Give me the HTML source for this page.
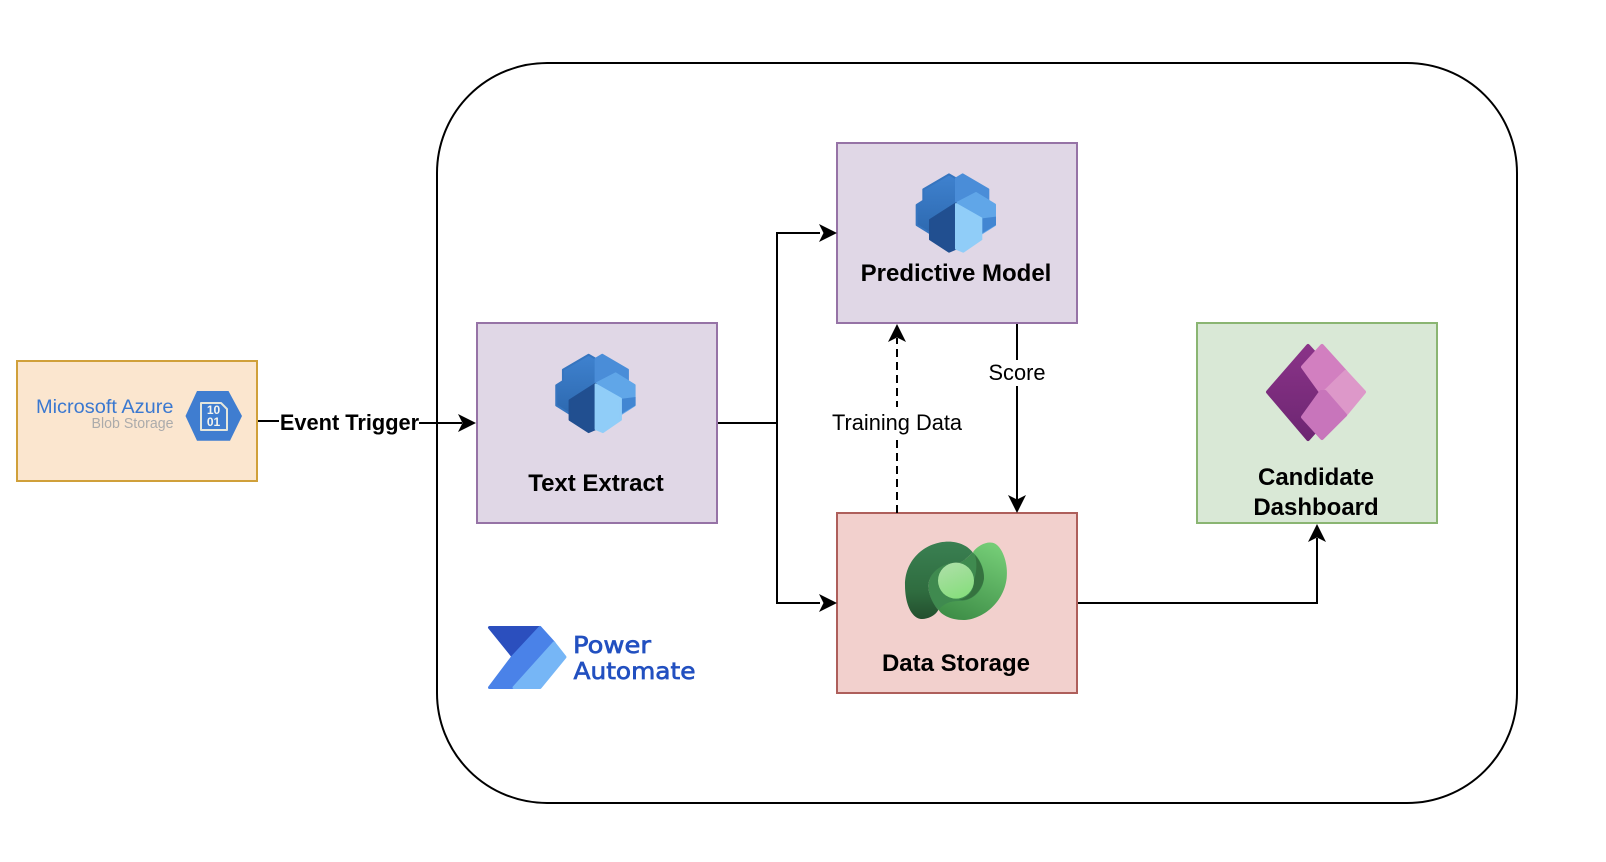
<!DOCTYPE html>
<html>
<head>
<meta charset="utf-8">
<style>
html,body{margin:0;padding:0;background:#fff;width:1606px;height:862px;overflow:hidden}
svg{display:block}
text{font-family:"Liberation Sans",Arial,sans-serif}
.b{font-weight:bold;font-size:24px;fill:#000;text-anchor:middle}
.l{font-size:21.8px;fill:#000;text-anchor:middle}
</style>
</head>
<body>
<svg width="1606" height="862" viewBox="0 0 1606 862" xmlns="http://www.w3.org/2000/svg">
<defs>
<linearGradient id="gd" x1="0" y1="0" x2="0" y2="1"><stop offset="0" stop-color="#3a8052"/><stop offset="0.65" stop-color="#2f6c3f"/><stop offset="1" stop-color="#234f2e"/></linearGradient>
<linearGradient id="gl" x1="0.7" y1="0" x2="0.3" y2="1"><stop offset="0" stop-color="#74cc76"/><stop offset="1" stop-color="#3f8f48"/></linearGradient>
<linearGradient id="gc" x1="0.3" y1="0" x2="0.7" y2="1"><stop offset="0" stop-color="#acdfa6"/><stop offset="1" stop-color="#86de7c"/></linearGradient>
<linearGradient id="gb" x1="0" y1="0" x2="0" y2="1"><stop offset="0" stop-color="#3f82cf"/><stop offset="1" stop-color="#2d69b0"/></linearGradient>
<linearGradient id="gp" x1="0" y1="0" x2="0" y2="1"><stop offset="0" stop-color="#8a3388"/><stop offset="1" stop-color="#6d2672"/></linearGradient>
</defs>

<!-- container -->
<rect x="437" y="63" width="1080" height="740" rx="110" ry="110" fill="#fff" stroke="#000" stroke-width="2"/>

<!-- boxes -->
<rect x="17" y="361" width="240" height="120" fill="#fbe6cf" stroke="#d0a03a" stroke-width="2"/>
<rect x="477" y="323" width="240" height="200" fill="#e0d7e6" stroke="#9673a6" stroke-width="2"/>
<rect x="837" y="143" width="240" height="180" fill="#e0d7e6" stroke="#9673a6" stroke-width="2"/>
<rect x="837" y="513" width="240" height="180" fill="#f2d0cd" stroke="#ae5f5b" stroke-width="2"/>
<rect x="1197" y="323" width="240" height="200" fill="#d9e8d6" stroke="#8ab572" stroke-width="2"/>

<!-- connectors -->
<g fill="none" stroke="#000" stroke-width="2">
<path d="M258 421H279"/>
<path d="M419 423H462"/>
<path d="M718 423H777"/>
<path d="M820 233H777V603H820"/>
<path d="M1017 324V500"/>
<path d="M897 513V338" stroke-dasharray="8 5"/>
<path d="M1078 603H1317V538"/>
</g>
<g fill="#000">
<path d="M476 423L458 414L462.500 423L458 432Z"/>
<path d="M837 233L819 224L823.500 233L819 242Z"/>
<path d="M837 603L819 594L823.500 603L819 612Z"/>
<path d="M1017 513L1008 495L1017 499.500L1026 495Z"/>
<path d="M897 324L888 342L897 337.500L906 342Z"/>
<path d="M1317 524L1308 542L1317 537.500L1326 542Z"/>
</g>

<!-- connector labels -->
<rect x="988" y="360" width="58" height="26" fill="#fff"/>
<text class="l" x="1017" y="380">Score</text>
<rect x="831" y="407" width="132" height="30" fill="#fff"/>
<text class="l" x="897" y="430">Training Data</text>
<text x="349.500" y="430" font-size="21.800" font-weight="bold" text-anchor="middle" fill="#000">Event Trigger</text>

<!-- box labels -->
<text class="b" x="596" y="491">Text Extract</text>
<text class="b" x="956" y="281">Predictive Model</text>
<text class="b" x="956" y="671">Data Storage</text>
<text class="b" x="1316" y="485">Candidate</text>
<text class="b" x="1316" y="515">Dashboard</text>

<!-- Azure logo -->
<text x="36" y="413" font-size="19.500" fill="#3a78d0" textLength="137.500" lengthAdjust="spacingAndGlyphs">Microsoft Azure</text>
<text x="91.500" y="428" font-size="15" fill="#ababab" textLength="82" lengthAdjust="spacingAndGlyphs">Blob Storage</text>
<path d="M185.500 416L197 391H228.500L242 416L230 440.700H197Z" fill="#3f7dd0"/>
<path d="M201 403H221L227 409V430H201Z" fill="#3f7dd0" stroke="#e4e6dc" stroke-width="2" stroke-linejoin="round"/>
<text x="213.500" y="414" font-size="12" font-weight="bold" fill="#f4f4ee" text-anchor="middle">10</text>
<text x="213.500" y="426" font-size="12" font-weight="bold" fill="#f4f4ee" text-anchor="middle">01</text>

<!-- AI Builder icon (Predictive) -->
<g transform="translate(870 150) scale(.3333)" stroke-linejoin="round">
<path d="M237 73L160 118V152L140 165V225L180 250L258 200V85Z" fill="url(#gb)" stroke="#3675bf" stroke-width="6"/>
<path d="M258 85L278 73L355 118V152L318 127L258 160Z" fill="#4a8dd8" stroke="#4a8dd8" stroke-width="6"/>
<path d="M258 160L318 129L375 164V225L336 250V205Z" fill="#60a6e8" stroke="#60a6e8" stroke-width="6"/>
<path d="M336 250L378 225V200L336 205Z" fill="#4286d2"/>
<path d="M258 160L180 210V268L237 305L258 296Z" fill="#214f90" stroke="#214f90" stroke-width="6"/>
<path d="M258 162L334 205V268L280 305L258 296Z" fill="#90cdf8" stroke="#90cdf8" stroke-width="6"/>
</g>
<!-- AI Builder icon (Text Extract) -->
<g transform="translate(509.600 330.400) scale(.3333)" stroke-linejoin="round">
<path d="M237 73L160 118V152L140 165V225L180 250L258 200V85Z" fill="url(#gb)" stroke="#3675bf" stroke-width="6"/>
<path d="M258 85L278 73L355 118V152L318 127L258 160Z" fill="#4a8dd8" stroke="#4a8dd8" stroke-width="6"/>
<path d="M258 160L318 129L375 164V225L336 250V205Z" fill="#60a6e8" stroke="#60a6e8" stroke-width="6"/>
<path d="M336 250L378 225V200L336 205Z" fill="#4286d2"/>
<path d="M258 160L180 210V268L237 305L258 296Z" fill="#214f90" stroke="#214f90" stroke-width="6"/>
<path d="M258 162L334 205V268L280 305L258 296Z" fill="#90cdf8" stroke="#90cdf8" stroke-width="6"/>
</g>

<!-- Dataverse icon -->
<g transform="translate(860 515) scale(.3333)">
<path d="M340 110C355 90 385 76 405 86C430 100 445 150 440 190C430 270 360 315 310 315C270 315 240 297 235 282C260 240 330 190 340 110Z" fill="url(#gl)"/>
<path d="M338 112C360 130 372 160 372 185C372 225 340 258 300 258C275 258 255 262 235 285C215 265 205 235 205 210C210 165 250 140 300 143C315 135 328 122 338 112Z" fill="#3f8a4f"/>
<path d="M135 210C135 130 200 80 265 80C300 80 325 95 338 112C325 125 312 137 300 143C255 140 210 165 205 210C205 240 220 268 235 285C222 308 190 316 175 310C150 300 135 260 135 210Z" fill="url(#gd)"/>
<path d="M342 197A54 54 0 0 1 296 254C330 262 366 230 372 190C372 165 362 140 345 120C352 145 350 170 342 197Z" fill="#35723f"/>
<circle cx="288" cy="197" r="54" fill="url(#gc)"/>
</g>

<!-- Power Apps icon -->
<g stroke-linejoin="round" stroke-width="4">
<path d="M1268 392L1308 346L1350 392L1308 439Z" fill="url(#gp)" stroke="url(#gp)"/>
<path d="M1303 367L1322 346L1345.500 372L1325 392H1321Z" fill="#d27fc0" stroke="#d27fc0"/>
<path d="M1325 392L1345.500 372L1364 392L1345 415Z" fill="#dd98c9" stroke="#dd98c9"/>
<path d="M1321 392H1325L1345 415L1322 438L1303 417Z" fill="#c875bb" stroke="#c875bb"/>
</g>

<!-- Power Automate logo -->
<g stroke-linejoin="round">
<path d="M489.500 627.500H539.500L512.500 656Z" fill="#2b4fbe" stroke="#2b4fbe" stroke-width="3"/>
<path d="M540 627.500L554 643L514 687.500H489.500L512.500 657Z" fill="#4a82e8" stroke="#4a82e8" stroke-width="3"/>
<path d="M554 643L565 657L540 687.500H514Z" fill="#76b6f6" stroke="#76b6f6" stroke-width="3"/>
</g>
<text x="573" y="653" font-size="23.500" fill="#2250c0" stroke="#2250c0" stroke-width=".7" textLength="78" lengthAdjust="spacingAndGlyphs" style="font-family:'DejaVu Sans',sans-serif">Power</text>
<text x="573.500" y="679" font-size="23.500" fill="#2250c0" stroke="#2250c0" stroke-width=".7" textLength="122" lengthAdjust="spacingAndGlyphs" style="font-family:'DejaVu Sans',sans-serif">Automate</text>
</svg>
</body>
</html>
